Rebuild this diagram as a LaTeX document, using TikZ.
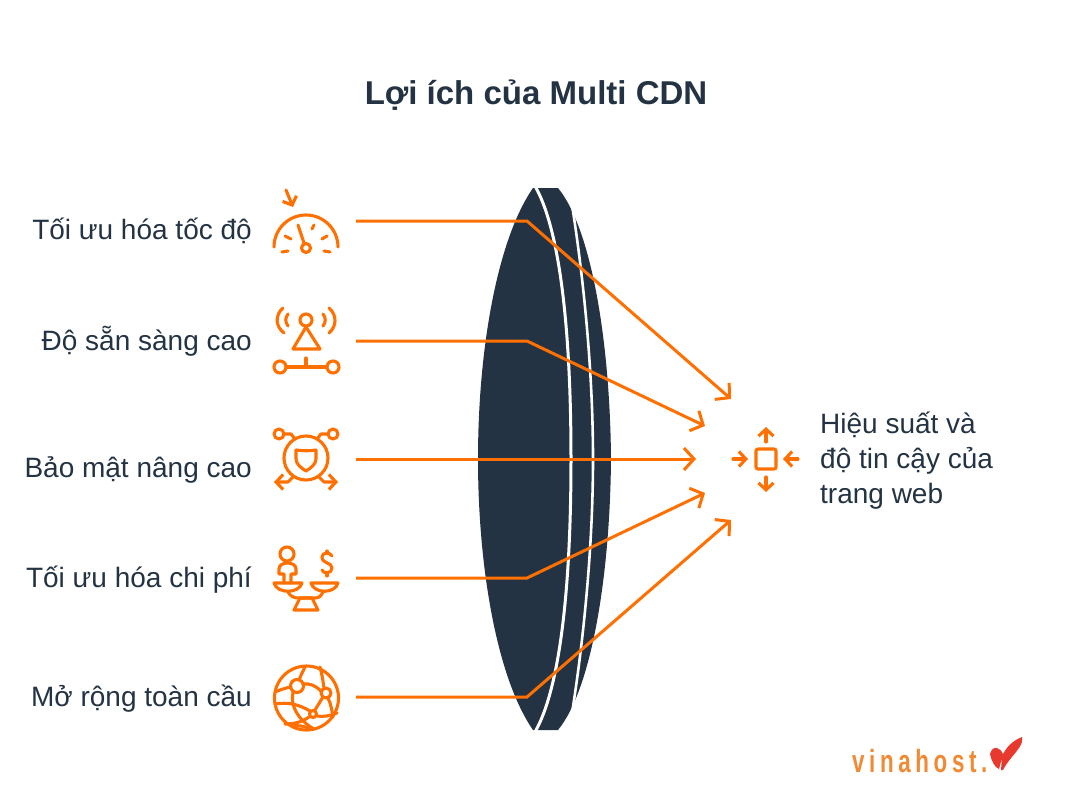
\documentclass[tikz,border=0pt]{standalone}
\usepackage{fontspec}
\setmainfont{Liberation Sans}
\usetikzlibrary{arrows.meta,positioning}
\definecolor{darknavy}{HTML}{233343}
\definecolor{rayorange}{HTML}{FF7000}
\definecolor{logoorange}{HTML}{F08A35}
\definecolor{logored}{HTML}{E8392F}
\tikzset{
  labeltext/.style={font=\fontsize{28}{32}\selectfont,text=darknavy,anchor=east,inner sep=0pt},
  ray/.style={draw=rayorange,line width=3pt,-{Straight Barb[length=10pt,width=22pt,line width=3pt]}},
  iconline/.style={draw=rayorange,line width=3.1pt,line cap=round,line join=round},
  smallarrow/.style={iconline,-{Straight Barb[length=7pt,width=15pt,line width=3.1pt]}},
}
\begin{document}
\begin{tikzpicture}[x=1pt,y=-1pt]
\useasboundingbox (0,0) rectangle (1072,800);
% title
\node[font=\fontsize{33}{38}\selectfont\bfseries,text=darknavy] (title) at (536,95) {Lợi ích của Multi CDN};
% lens
\fill[darknavy] (558,188) .. controls (591,228) and (610,340) .. (611,459) .. controls (610,578) and (591,690) .. (558,730) -- (533,730) .. controls (497,678) and (478,568) .. (478,459) .. controls (478,350) and (497,240) .. (533,188) -- cycle;
\draw[white,line width=3pt] (535,186) .. controls (563,235) and (571,350) .. (571,459) .. controls (571,568) and (563,683) .. (535,732);
\draw[white,line width=2.6pt] (572.5,208) .. controls (581,262) and (593,360) .. (593,459) .. controls (593,558) and (581,656) .. (572.5,710);
% labels
\node[labeltext] (speed) at (252,231) {Tối ưu hóa tốc độ};
\node[labeltext] (avail) at (252,341) {Độ sẵn sàng cao};
\node[labeltext] (secure) at (252,470) {Bảo mật nâng cao};
\node[labeltext] (cost) at (252,580) {Tối ưu hóa chi phí};
\node[labeltext] (global) at (252,699) {Mở rộng toàn cầu};
\node[labeltext,anchor=west,align=left,font=\fontsize{28}{35}\selectfont] (result) at (820,461) {Hiệu suất và\\độ tin cậy của\\trang web};
% rays
\coordinate (r1) at (731,399);
\coordinate (r2) at (705,426);
\coordinate (r3) at (696,459);
\coordinate (r4) at (705,493);
\coordinate (r5) at (731,520);
\draw[ray] (356,221) -- (527,221) -- (r1);
\draw[ray] (356,341) -- (527,341) -- (r2);
\draw[ray] (356,459) -- (r3);
\draw[ray] (356,578) -- (527,578) -- (r4);
\draw[ray] (356,697) -- (527,697) -- (r5);
% speed icon
\draw[smallarrow] (286,190) -- (293,207);
\draw[iconline] (274,247) arc[start angle=180,end angle=360,radius=32];
\draw[iconline] (306,248) circle[radius=4.5];
\draw[iconline] (304,243) -- (298,225);
\draw[iconline] (312,229) -- (314,225);
\draw[iconline] (285,236) -- (291,239);
\draw[iconline] (327,236) -- (322,239);
\draw[iconline] (282,252) -- (288,251);
\draw[iconline] (324,251) -- (330,252);
% availability icon
\draw[iconline] (306,320) circle[radius=6];
\draw[iconline] (306,327) -- (293,349) -- (320,349) -- cycle;
\draw[iconline] (283,308) .. controls (275,315) and (275,326) .. (284,333);
\draw[iconline] (288,314) .. controls (285,318) and (285,322) .. (288,326);
\draw[iconline] (329,308) .. controls (337,315) and (337,326) .. (329,333);
\draw[iconline] (323,314) .. controls (326,318) and (326,322) .. (323,326);
\draw[iconline] (280,367) circle[radius=6];
\draw[iconline] (333,367) circle[radius=6];
\draw[iconline] (286,367) -- (327,367);
\draw[iconline] (306,358) -- (306,367);
% security icon
\draw[iconline] (306,458) circle[radius=22];
\draw[iconline] (296,450) .. controls (303,451) and (310,451) .. (316,450) -- (316,459) .. controls (316,464) and (311,468) .. (306,471) .. controls (301,468) and (296,464) .. (296,459) -- cycle;
\draw[iconline] (279,434) circle[radius=5];
\draw[iconline] (333,434) circle[radius=5];
\draw[iconline] (285,434) -- (291,434) -- (295,439);
\draw[iconline] (327,434) -- (321,434) -- (317,439);
\draw[smallarrow] (293,477) -- (288,482) -- (274,482);
\draw[smallarrow] (319,477) -- (324,482) -- (338,482);
% cost icon
\draw[iconline] (287,554) circle[radius=7];
\draw[iconline] (284,583) -- (284,574) -- (279,574) -- (279,569) .. controls (279,561) and (296,561) .. (296,569) -- (296,574) -- (291,574) -- (291,583);
\draw[iconline] (274,583) -- (302,583) .. controls (299,594) and (277,594) .. (274,583) -- cycle;
\draw[iconline] (311,583) -- (338,583) .. controls (335,594) and (314,594) .. (311,583) -- cycle;
\draw[iconline] (288,592) .. controls (290,596) and (294,598) .. (298,598) -- (315,598) .. controls (319,598) and (321,596) .. (323,592);
\draw[iconline] (300,598) -- (312,598) -- (318,610) -- (294,610) -- cycle;
\draw[iconline] (332,556) .. controls (330,552) and (322,552) .. (322,557) .. controls (322,564) and (332,562) .. (332,568) .. controls (332,574) and (323,574) .. (322,570);
\draw[iconline] (327,553) -- (327,551);
\draw[iconline] (327,573) -- (327,576);
% global icon
\draw[iconline] (306.5,698) circle[radius=32];
\draw[iconline] (297,686) circle[radius=6.5];
\draw[iconline] (326,693) circle[radius=5];
\draw[iconline] (313,714) circle[radius=3.5];
\draw[iconline] (303,684) .. controls (310,683) and (316,686) .. (321,691);
\draw[iconline] (299,680) .. controls (301,675) and (303,671) .. (305,667);
\draw[iconline] (291,687) .. controls (285,688) and (280,690) .. (275,692);
\draw[iconline] (293,692) .. controls (290,706) and (298,720) .. (314,729);
\draw[iconline] (275,704) .. controls (288,702) and (298,704) .. (310,711);
\draw[iconline] (323,697) -- (315,710);
\draw[iconline] (317,716) .. controls (323,717) and (330,716) .. (337,713);
\draw[iconline] (320,667) .. controls (322,674) and (323,681) .. (324,688);
\draw[iconline] (328,698) .. controls (331,704) and (332,711) .. (333,717);
\draw[iconline] (309,717) .. controls (302,722) and (294,724) .. (285,724);
\draw[iconline] (292,726) .. controls (298,725) and (304,726) .. (310,729);
% result icon
\node[draw=rayorange,line width=3.1pt,rounded corners=2pt,minimum size=20pt,inner sep=0pt] (centerbox) at (766,459) {};
\draw[smallarrow] (733,459) -- (748,459);
\draw[smallarrow] (798,459) -- (783,459);
\draw[smallarrow] (766,442) -- (766,427);
\draw[smallarrow] (766,477) -- (766,492);
% logo
\node[font=\fontsize{32}{32}\selectfont\bfseries,text=logoorange,inner sep=0pt,anchor=base west,xscale=0.7] (logo) at (852,772) {v\hspace{.206em}i\hspace{.206em}n\hspace{.206em}a\hspace{.206em}h\hspace{.206em}o\hspace{.206em}s\hspace{.206em}t\hspace{.206em}.};
\fill[logored] (990,754) .. controls (991,749) and (995,747) .. (997,748) .. controls (1000,749) and (1002,751) .. (1003,754) .. controls (1007,747) and (1012,741) .. (1022,737) .. controls (1023,741) and (1021,745) .. (1019,748) .. controls (1014,755) and (1007,762) .. (1003,770) -- (1001,770) -- (1002,758) -- (999,769) .. controls (995,768) and (991,760) .. (990,754) -- cycle;
\end{tikzpicture}
\end{document}
